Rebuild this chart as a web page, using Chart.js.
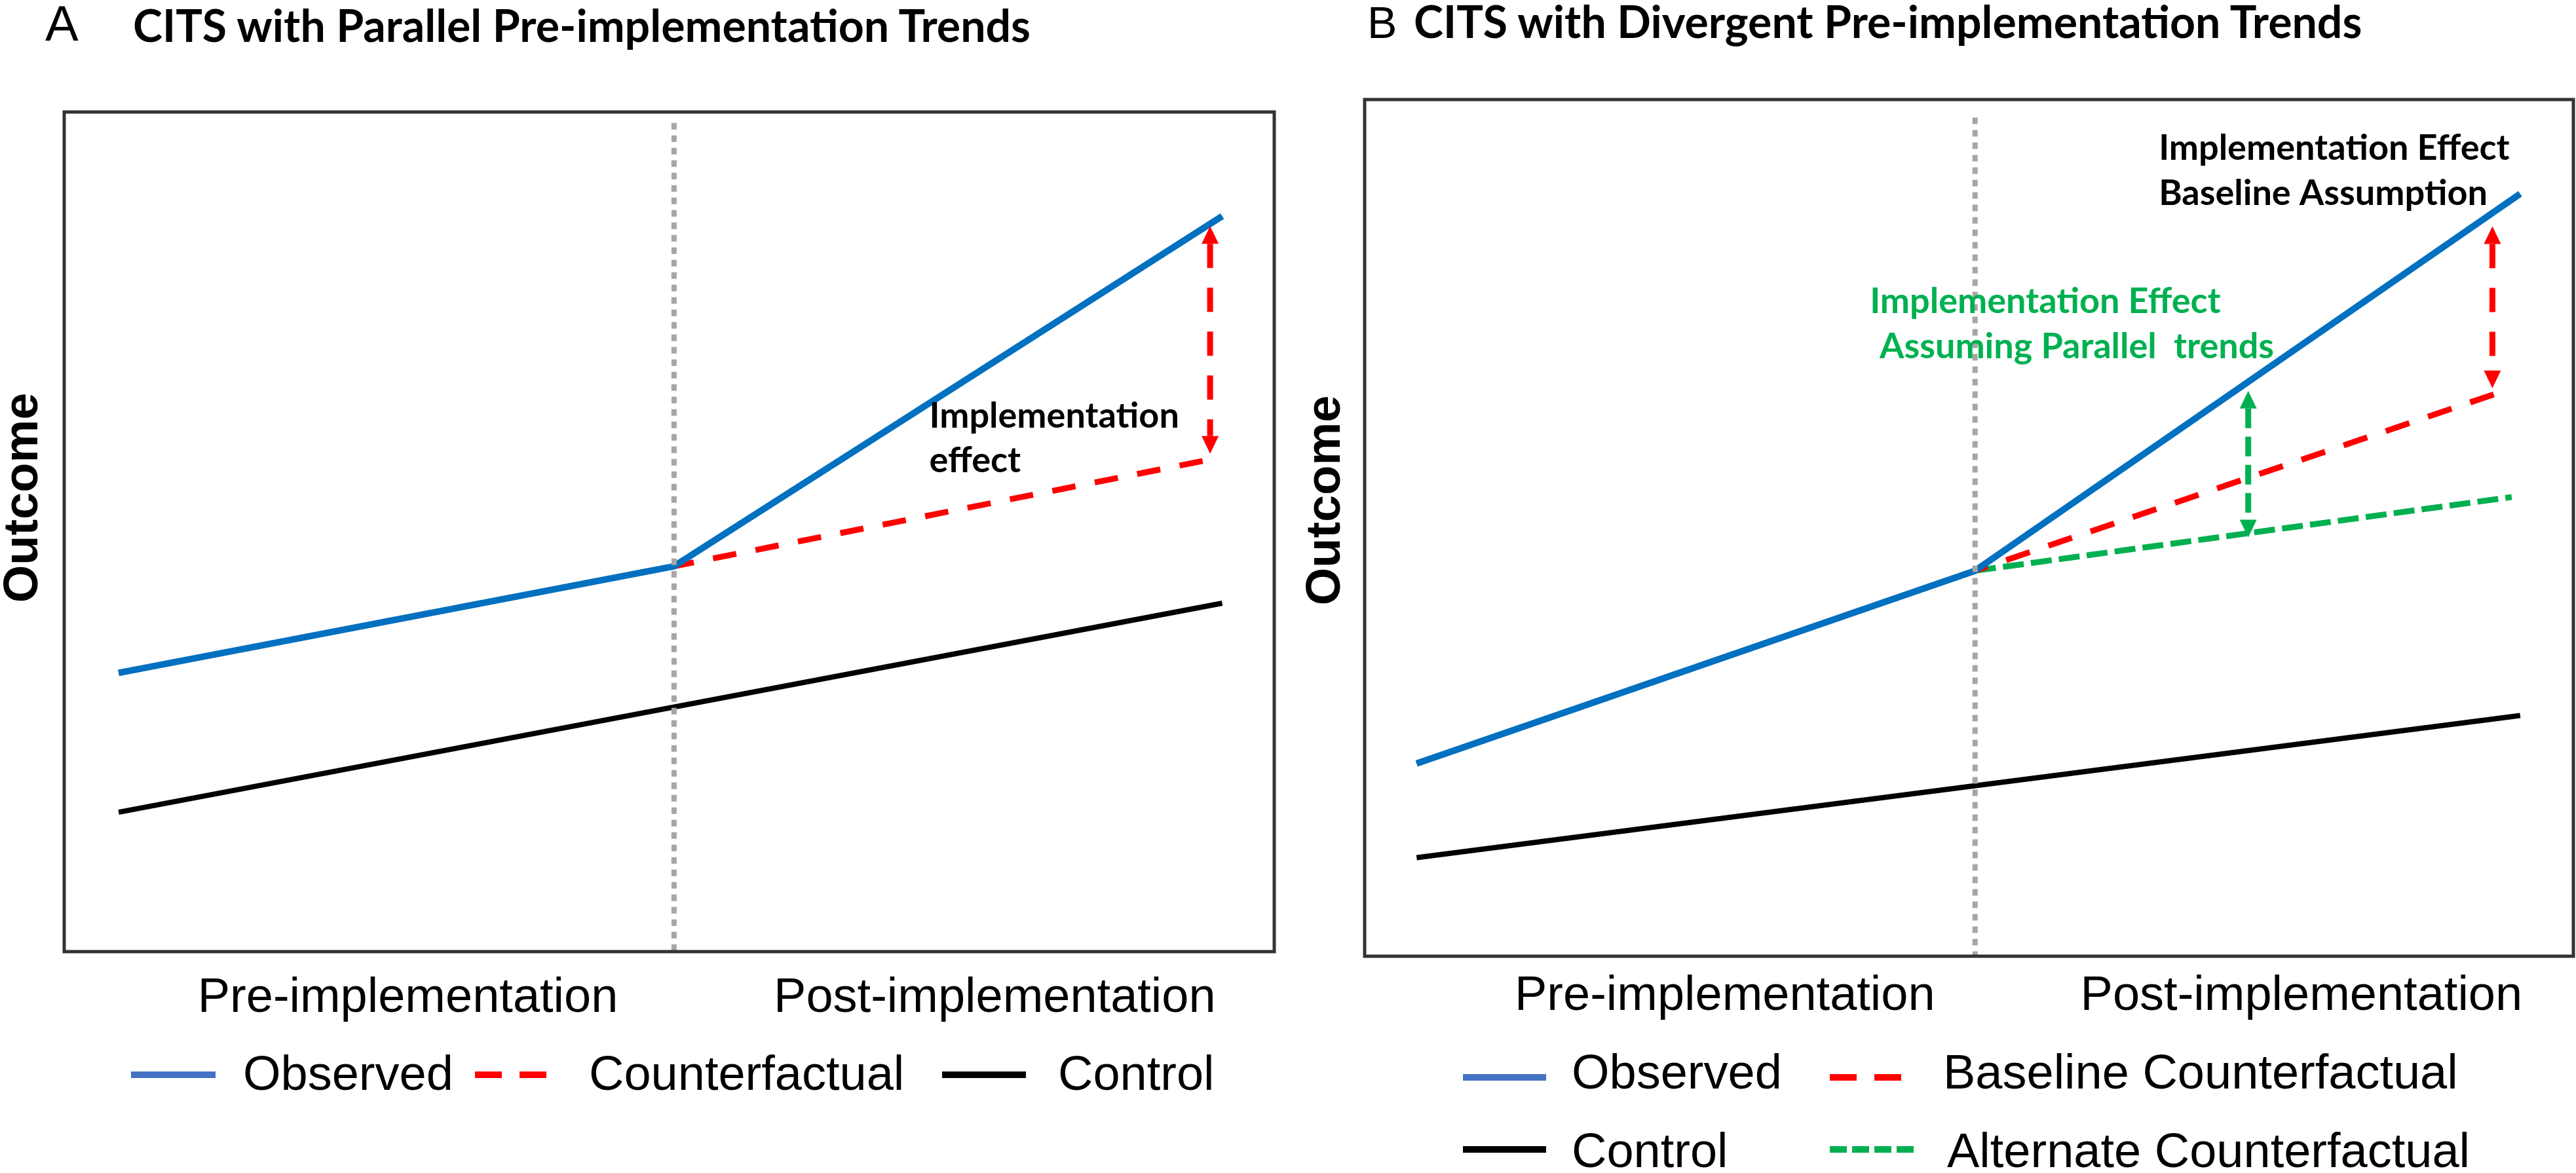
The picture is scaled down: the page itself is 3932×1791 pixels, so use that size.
<!DOCTYPE html>
<html>
<head>
<meta charset="utf-8">
<title>CITS</title>
<script src="https://cdn.jsdelivr.net/npm/chart.js@4.4.1/dist/chart.umd.min.js"></script>
<style>
  html, body { margin: 0; padding: 0; background: #fff; }
  body { position: relative; width: 3932px; height: 1791px; overflow: hidden;
         font-family: "Liberation Sans", Arial, sans-serif; color: #000; }
  .t { position: absolute; white-space: nowrap; line-height: 1; }
  .panel { font-size: 76px; }
  .head { font-family: Lato, sans-serif; font-weight: 700; font-size: 68px; }
  .leg { font-size: 74px; }
  .ylab { font-size: 74px; font-weight: bold; transform: translate(-50%, -50%) rotate(-90deg); }
  .sw { position: absolute; height: 10px; }
  .blue { background: #4472C4; }
  .black { background: #000; }
  .reddash { background: repeating-linear-gradient(90deg, #f00 0 41px, transparent 41px 68px); }
  .greendash { background: repeating-linear-gradient(90deg, #00B050 0 26px, transparent 26px 34px); }
  canvas { position: absolute; top: 0; }
</style>
</head>
<body>

<div class="t panel" style="left:69px; top:-2px;">A</div>
<div class="t head" style="left:203px; top:4px;">CITS with Parallel Pre-implementation Trends</div>
<div class="t panel" style="left:2087px; top:0px; font-size:68px;">B</div>
<div class="t head" style="left:2158px; top:-2px;">CITS with Divergent Pre-implementation Trends</div>

<div class="t ylab" style="left:32px; top:760px;">Outcome</div>
<div class="t ylab" style="left:2020px; top:764px;">Outcome</div>

<canvas id="chartA" width="1960" height="1600" style="left:0px;"></canvas>
<canvas id="chartB" width="1972" height="1600" style="left:1960px;"></canvas>

<!-- legend A -->
<div class="sw blue" style="left:200px; top:1636px; width:129px;"></div>
<div class="t leg" style="left:371px; top:1602px;">Observed</div>
<div class="sw reddash" style="left:725px; top:1636px; width:109px;"></div>
<div class="t leg" style="left:899px; top:1602px;">Counterfactual</div>
<div class="sw black" style="left:1438px; top:1636px; width:128px;"></div>
<div class="t leg" style="left:1615px; top:1602px;">Control</div>

<!-- legend B -->
<div class="sw blue" style="left:2233px; top:1640px; width:127px;"></div>
<div class="t leg" style="left:2399px; top:1600px;">Observed</div>
<div class="sw reddash" style="left:2793px; top:1640px; width:109px;"></div>
<div class="t leg" style="left:2966px; top:1600px;">Baseline Counterfactual</div>
<div class="sw black" style="left:2233px; top:1750px; width:127px;"></div>
<div class="t leg" style="left:2399px; top:1720px;">Control</div>
<div class="sw greendash" style="left:2793px; top:1750px; width:129px;"></div>
<div class="t leg" style="left:2972px; top:1720px;">Alternate Counterfactual</div>

<script>
// ---- panel A: parallel pre-implementation trends ----
const implA = 5.04;
const implLineA = [9.87, 0];
const observedA_x = [0.45, 5.04, 9.57];
const observedA_y = [3.32, 4.59, 8.76];
const counterA_x = [0.45, 5.04, 9.50];
const counterA_y = [3.32, 4.59, 5.87];
const controlA_x = [0.45, 9.57];
const controlA_y = [1.66, 4.15];

// ---- panel B: divergent pre-implementation trends ----
const implB = 5.05;
const implLineB = [9.79, 0];
const observedB_x = [0.43, 5.05, 9.56];
const observedB_y = [2.25, 4.50, 8.90];
const baselineB_x = [0.43, 5.05, 9.49];
const baselineB_y = [2.25, 4.50, 6.63];
const alternateB_x = [5.05, 9.49];
const alternateB_y = [4.50, 5.36];
const controlB_x = [0.43, 9.56];
const controlB_y = [1.15, 2.81];

// x axis period labels
const periodLabels = ['Pre-implementation', 'Post-implementation'];
const periodTicksA = [2.84, 7.69];
const periodTicksB = [2.98, 7.75];

// effect arrows (x, top, bottom) and notes (text, left x, baseline y)
const arrowsA = [{ x: 9.47, top: 8.64, bottom: 5.93, color: '#FF0000', dash: [37, 30] }];
const arrowsB = [
  { x: 9.33, top: 8.52, bottom: 6.63, color: '#FF0000', dash: [37, 30] },
  { x: 7.31, top: 6.60, bottom: 4.89, color: '#00B050', dash: [30, 13] }
];
const notesA = [
  { text: 'Implementation', x: 7.15, y: 6.24, color: '#000' },
  { text: 'effect', x: 7.15, y: 5.71, color: '#000' }
];
const notesB = [
  { text: 'Implementation Effect', x: 6.57, y: 9.30, color: '#000' },
  { text: 'Baseline Assumption', x: 6.57, y: 8.77, color: '#000' },
  { text: 'Implementation Effect', x: 4.18, y: 7.51, color: '#00B050' },
  { text: 'Assuming Parallel  trends', x: 4.26, y: 6.98, color: '#00B050' }
];

Chart.defaults.font.family = '"Liberation Sans", Arial, sans-serif';
Chart.defaults.color = '#000';

function pts(xs, ys) {
  return xs.map((x, i) => ({ x: x, y: ys[i] }));
}

function drawArrow(ctx, x, yTop, yBot, color, dash) {
  const head = 27, half = 13;
  ctx.save();
  ctx.strokeStyle = color;
  ctx.fillStyle = color;
  ctx.lineWidth = 9;
  ctx.setLineDash(dash);
  ctx.beginPath();
  ctx.moveTo(x, yTop + head);
  ctx.lineTo(x, yBot - head);
  ctx.stroke();
  ctx.setLineDash([]);
  ctx.beginPath();
  ctx.moveTo(x, yTop);
  ctx.lineTo(x - half, yTop + head);
  ctx.lineTo(x + half, yTop + head);
  ctx.closePath();
  ctx.fill();
  ctx.beginPath();
  ctx.moveTo(x, yBot);
  ctx.lineTo(x - half, yBot - head);
  ctx.lineTo(x + half, yBot - head);
  ctx.closePath();
  ctx.fill();
  ctx.restore();
}

function annotPlugin(arrows, notes) {
  return {
    id: 'annot',
    afterDatasetsDraw(chart) {
      const ctx = chart.ctx, sx = chart.scales.x, sy = chart.scales.y;
      arrows.forEach(a => {
        drawArrow(ctx, sx.getPixelForValue(a.x), sy.getPixelForValue(a.top),
                  sy.getPixelForValue(a.bottom), a.color, a.dash);
      });
      ctx.save();
      ctx.font = 'bold 54px Lato';
      ctx.textAlign = 'left';
      ctx.textBaseline = 'alphabetic';
      notes.forEach(n => {
        ctx.fillStyle = n.color;
        ctx.fillText(n.text, sx.getPixelForValue(n.x), sy.getPixelForValue(n.y));
      });
      ctx.restore();
    },
    afterDraw(chart) {
      const ctx = chart.ctx, a = chart.chartArea;
      ctx.save();
      ctx.strokeStyle = '#333';
      ctx.lineWidth = 5;
      ctx.strokeRect(a.left, a.top, a.right - a.left, a.bottom - a.top);
      ctx.restore();
    }
  };
}

function line(label, data, color, width, dash) {
  return {
    label: label,
    data: data,
    borderColor: color,
    borderWidth: width,
    borderDash: dash || [],
    pointRadius: 0,
    fill: false,
    tension: 0,
    borderJoinStyle: 'round'
  };
}

function makeChart(id, datasets, tickVals, pad, tickPad, xHeight, arrows, notes) {
  return new Chart(document.getElementById(id), {
    type: 'line',
    data: { datasets: datasets },
    options: {
      responsive: false,
      animation: false,
      layout: { padding: pad },
      plugins: { legend: { display: false }, tooltip: { enabled: false } },
      scales: {
        x: {
          type: 'linear', min: 0, max: 10,
          grid: { display: false, drawTicks: false },
          border: { display: false },
          afterBuildTicks: s => { s.ticks = tickVals.map(v => ({ value: v })); },
          afterFit: s => { s.height = xHeight; },
          ticks: {
            autoSkip: false, maxRotation: 0, padding: tickPad,
            font: { size: 74 }, color: '#000',
            callback: (v, i) => periodLabels[i]
          }
        },
        y: { type: 'linear', min: 0, max: 10, display: false }
      }
    },
    plugins: [annotPlugin(arrows, notes)]
  });
}

makeChart('chartA', [
  line('Implementation', pts([implA, implA], implLineA), '#A6A6A6', 8, [10, 9]),
  line('Observed', pts(observedA_x, observedA_y), '#0070C0', 10),
  line('Counterfactual', pts(counterA_x, counterA_y), '#FF0000', 9, [36, 30]),
  line('Control', pts(controlA_x, controlA_y), '#000000', 8)
], periodTicksA, { left: 98, top: 171, right: 15, bottom: 0 }, 27, 147, arrowsA, notesA);

makeChart('chartB', [
  line('Implementation', pts([implB, implB], implLineB), '#A6A6A6', 8, [10, 9]),
  line('Observed', pts(observedB_x, observedB_y), '#0070C0', 10),
  line('Baseline Counterfactual', pts(baselineB_x, baselineB_y), '#FF0000', 9, [38, 30]),
  line('Alternate Counterfactual', pts(alternateB_x, alternateB_y), '#00B050', 9, [32, 11]),
  line('Control', pts(controlB_x, controlB_y), '#000000', 8)
], periodTicksB, { left: 123, top: 152, right: 4, bottom: 0 }, 17, 140, arrowsB, notesB);
</script>
</body>
</html>
